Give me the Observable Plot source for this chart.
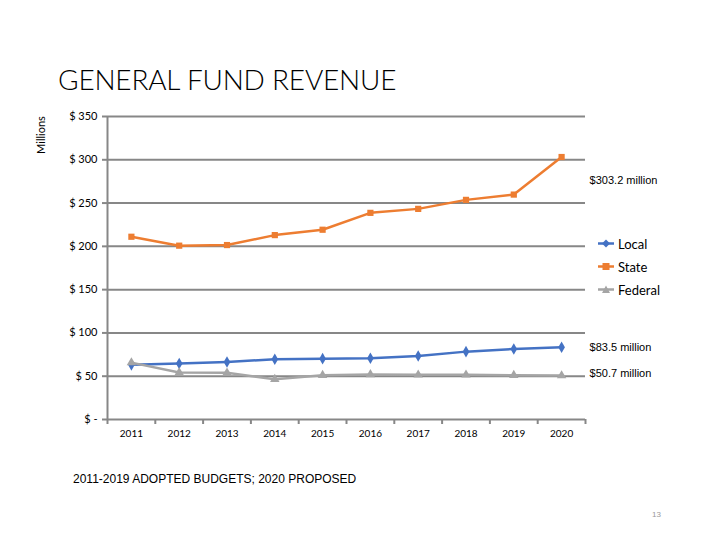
<!DOCTYPE html>
<html><head><meta charset="utf-8">
<script src="https://cdn.jsdelivr.net/npm/d3@7"></script>
<script src="https://cdn.jsdelivr.net/npm/@observablehq/plot@0.6"></script>
<style>
body{margin:0;background:#fff;width:720px;height:540px;position:relative;overflow:hidden;font-family:Lato,"Liberation Sans",sans-serif}
#title{position:absolute;left:58px;top:65px;font-size:28px;font-weight:300;color:#000;white-space:nowrap;line-height:1;letter-spacing:-0.2px}
#millions{position:absolute;left:40px;top:135px;transform:translate(-50%,-50%) rotate(-90deg);font-size:11px;white-space:nowrap}
#chart{position:absolute;left:0;top:100px}
#legend{position:absolute;left:598px;top:232px;font-size:13px}
#legend .it{display:flex;align-items:center;height:23px}
#legend svg{margin-right:4px}
#footer{position:absolute;left:73px;top:472px;font-family:"Liberation Sans",Arial,sans-serif;font-size:12px;white-space:nowrap}
#page{position:absolute;left:652px;top:510px;font-family:"Liberation Sans",Arial,sans-serif;font-size:8px;color:#999}
</style></head>
<body>
<div id="title">GENERAL FUND REVENUE</div>
<div id="millions">Millions</div>
<div id="chart"></div>
<div id="legend"></div>
<div id="footer">2011-2019 ADOPTED BUDGETS; 2020 PROPOSED</div>
<div id="page">13</div>
<script>
const years = [2011, 2012, 2013, 2014, 2015, 2016, 2017, 2018, 2019, 2020];
const local = [63.1, 64.6, 66.5, 69.6, 70.3, 70.7, 73.4, 78.4, 81.5, 83.5];
const state = [211.1, 200.8, 201.5, 213.0, 219.2, 238.7, 243.3, 253.7, 259.8, 303.2];
const federal = [65.7, 54.3, 53.9, 46.6, 51.2, 52.0, 51.6, 51.6, 51.2, 50.7];
const seriesNames = ["Local", "State", "Federal"];
const colors = ["#4472C4", "#ED7D31", "#A5A5A5"];
const symbols = ["diamond", "square", "triangle"];
const yTicks = [0, 50, 100, 150, 200, 250, 300, 350];
const annoState = ["$303.2 million"];
const annoLocal = ["$83.5 million"];
const annoFederal = ["$50.7 million"];

const seriesValues = [local, state, federal];
const rows = [];
seriesNames.forEach((s, k) => years.forEach((yr, i) => rows.push({year: yr, series: s, value: seriesValues[k][i]})));
const boundaries = [...years.map(y => y - 0.5), years[years.length - 1] + 0.5];
const last = years.length - 1;

const gray = "#878787";
const chart = Plot.plot({
  width: 720, height: 345,
  marginLeft: 107, marginRight: 135, marginTop: 16, marginBottom: 26,
  style: {fontFamily: "Lato, 'Liberation Sans', sans-serif", background: "transparent", overflow: "visible"},
  x: {domain: [boundaries[0], boundaries[boundaries.length - 1]], axis: null},
  y: {domain: [0, 350], axis: null},
  color: {domain: seriesNames, range: colors},
  symbol: {domain: seriesNames, range: symbols},
  marks: [
    Plot.ruleY(yTicks, {stroke: gray, strokeWidth: 2}),
    Plot.ruleX([boundaries[0]], {stroke: gray, strokeWidth: 2}),
    Plot.axisY({ticks: yTicks, tickFormat: d => d === 0 ? "$ -" : "$ " + d, tickSize: 5, tickPadding: 5, stroke: gray, strokeWidth: 2, fill: "#000", fontSize: 11, label: null}),
    Plot.axisX({ticks: boundaries, tickFormat: () => "", tickSize: 5, stroke: gray, strokeWidth: 2, label: null}),
    Plot.axisX({ticks: years, tickFormat: d => String(d), tickSize: 0, tickPadding: 10, fill: "#000", fontSize: 10, label: null}),
    Plot.line(rows, {x: "year", y: "value", z: "series", stroke: "series", strokeWidth: 2.5}),
    Plot.dot(rows, {x: "year", y: "value", symbol: "series", fill: "series", stroke: "none", r: 3.5}),
    Plot.text(annoState, {x: () => years[last], y: () => state[last], text: d => d, dx: 28, dy: 23, textAnchor: "start", fontSize: 11, fontFamily: "'Liberation Sans', Arial, sans-serif"}),
    Plot.text(annoLocal, {x: () => years[last], y: () => local[last], text: d => d, dx: 28, dy: 0, textAnchor: "start", fontSize: 11, fontFamily: "'Liberation Sans', Arial, sans-serif"}),
    Plot.text(annoFederal, {x: () => years[last], y: () => federal[last], text: d => d, dx: 28, dy: -2, textAnchor: "start", fontSize: 11, fontFamily: "'Liberation Sans', Arial, sans-serif"})
  ]
});
document.getElementById("chart").appendChild(chart);

const legend = document.getElementById("legend");
const symPaths = {diamond: "M8,3.5 L12,7.5 L8,11.5 L4,7.5Z", square: "M4.5,4 h7 v7 h-7Z", triangle: "M8,3.5 L12,11 L4,11Z"};
seriesNames.forEach((s, i) => {
  const it = document.createElement("div");
  it.className = "it";
  it.innerHTML = `<svg width="16" height="15"><line x1="0" x2="16" y1="7.5" y2="7.5" stroke="${colors[i]}" stroke-width="2.5"/><path d="${symPaths[symbols[i]]}" fill="${colors[i]}"/></svg><span>${s}</span>`;
  legend.appendChild(it);
});
</script>
</body></html>
